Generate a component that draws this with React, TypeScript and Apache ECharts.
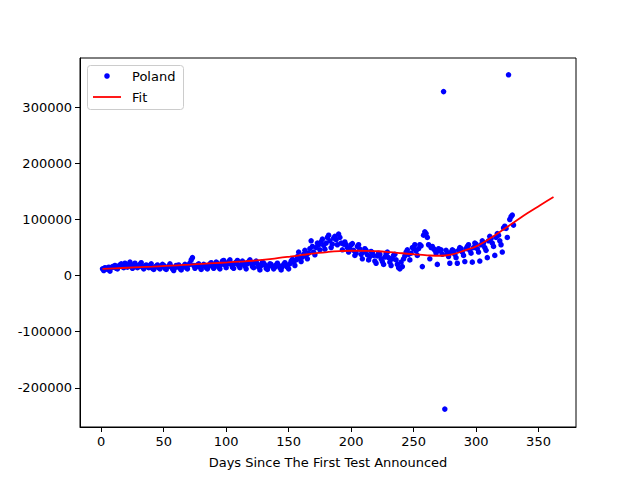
import React, { useEffect, useRef } from 'react';
import * as echarts from 'echarts';

// daily new cases (day 1 .. 330)
const dailyCases: number[] = [
  12000, 9000, 14000, 13000, 11000, 15000, 8000,
  14000, 16000, 15000, 18000, 13000, 12000, 17000,
  19000, 21000, 16000, 14000, 22000, 18000, 15000,
  20000, 24000, 17000, 13000, 19000, 22000, 16000,
  14000, 18000, 20000, 23000, 15000, 12000, 17000,
  19000, 16000, 14000, 18000, 21000, 13000, 11000,
  15000, 17000, 19000, 14000, 12000, 16000, 20000,
  18000, 13000, 11000, 15000, 17000, 21000, 16000,
  12000, 9000, 14000, 18000, 16000, 19000, 13000,
  10000, 15000, 17000, 20000, 14000, 12000, 19000,
  22000, 28000, 32000, 18000, 13000, 16000, 19000,
  21000, 15000, 11000, 17000, 20000, 18000, 14000,
  12000, 18000, 21000, 23000, 16000, 13000, 19000,
  24000, 22000, 15000, 12000, 20000, 26000, 27000,
  19000, 14000, 21000, 25000, 28000, 20000, 15000,
  13000, 22000, 24000, 27000, 18000, 14000, 20000,
  26000, 23000, 17000, 12000, 21000, 25000, 28000,
  22000, 16000, 14000, 23000, 26000, 21000, 15000,
  10000, 18000, 24000, 22000, 19000, 13000, 11000,
  17000, 21000, 20000, 16000, 12000, 15000, 19000,
  22000, 18000, 14000, 10000, 16000, 20000, 23000,
  19000, 15000, 12000, 21000, 26000, 29000, 24000,
  18000, 28000, 34000, 42000, 30000, 25000, 33000,
  38000, 45000, 36000, 30000, 40000, 48000, 62000,
  52000, 42000, 37000, 50000, 58000, 55000, 46000,
  60000, 65000, 54000, 47000, 58000, 68000, 72000,
  62000, 50000, 56000, 67000, 70000, 64000, 55000,
  74000, 68000, 58000, 46000, 56000, 60000, 55000,
  50000, 42000, 48000, 55000, 57000, 45000, 36000,
  40000, 52000, 55000, 47000, 38000, 30000, 42000,
  48000, 45000, 37000, 28000, 34000, 43000, 41000,
  36000, 26000, 22000, 35000, 40000, 38000, 30000,
  25000, 20000, 33000, 39000, 42000, 32000, 24000,
  18000, 30000, 36000, 38000, 28000, 20000, 14000,
  12000, 24000, 16000, 30000, 35000, 42000, 46000,
  38000, 28000, 40000, 50000, 48000, 55000, 44000,
  36000, 48000, 55000, 53000, 16000, 72000, 78000,
  75000, 68000, 55000, 30000, 50000, 52000, 48000,
  45000, 40000, 20000, 48000, 44000, 46000, 38000,
  328000, -238000, 45000, 40000, 34000, 22000, 42000,
  46000, 44000, 38000, 32000, 22000, 45000, 50000,
  48000, 42000, 36000, 25000, 48000, 52000, 55000,
  45000, 40000, 24000, 50000, 58000, 56000, 48000,
  42000, 26000, 55000, 62000, 58000, 50000, 45000,
  32000, 62000, 70000, 66000, 58000, 52000, 36000,
  68000, 75000, 72000, 62000, 55000, 42000, 85000,
  88000, 84000, 68000, 358000, 100000, 105000, 108000,
  90000,
];

// fitted curve, sampled every 10 days
const fitDays: number[] = [
  1, 11, 21, 31, 41, 51, 61, 71, 81, 91, 101, 111, 121, 131, 141, 151, 161, 171, 181,
  191, 201, 211, 221, 231, 241, 251, 261, 271, 281, 291, 301, 311, 321, 331, 341, 351, 362,
];
const fitValues: number[] = [
  12000, 13000, 14000, 15000, 16000, 17200, 18400, 19600, 21000, 22300, 23600, 25000,
  26500, 28500, 31000, 33800, 36800, 39600, 42000, 43600, 44300, 44200, 43400, 41800,
  39800, 37800, 36200, 35400, 38000, 45000, 53000, 66000, 81000, 96000, 111000, 125000,
  140000,
];

const xTicks = [0, 50, 100, 150, 200, 250, 300, 350];
const yTicks = [-200000, -100000, 0, 100000, 200000, 300000];

const FONT = 'DejaVu Sans';

const App: React.FC = () => {
  const chartRef = useRef<HTMLDivElement>(null);

  useEffect(() => {
    if (!chartRef.current) return;
    const chart = echarts.init(chartRef.current, undefined, { renderer: 'svg' });

    const scatterData = dailyCases.map((v, i) => [i + 1, v]);
    const fitData = fitDays.map((d, i) => [d, fitValues[i]]);

    const option: echarts.EChartsOption = {
      animation: false,
      backgroundColor: '#ffffff',
      grid: {
        left: 80,
        right: 64,
        top: 58,
        bottom: 53,
        show: true,
        borderColor: '#000000',
        borderWidth: 1,
        backgroundColor: 'transparent',
      },
      xAxis: {
        type: 'value',
        min: -17,
        max: 380,
        name: 'Days Since The First Test Announced',
        nameLocation: 'middle',
        nameGap: 29,
        nameTextStyle: { fontFamily: FONT, fontSize: 13, color: '#000' },
        axisLine: { show: true, onZero: false, lineStyle: { color: '#000' } },
        axisTick: { show: true, length: 5, customValues: xTicks, lineStyle: { color: '#000' } },
        axisLabel: {
          customValues: xTicks,
          margin: 8,
          fontFamily: FONT,
          fontSize: 13,
          color: '#000',
          formatter: (v: number) => String(v),
        },
        splitLine: { show: false },
      },
      yAxis: {
        type: 'value',
        min: -269900,
        max: 387900,
        axisLine: { show: true, onZero: false, lineStyle: { color: '#000' } },
        axisTick: { show: true, length: 5, customValues: yTicks, lineStyle: { color: '#000' } },
        axisLabel: {
          customValues: yTicks,
          margin: 8,
          fontFamily: FONT,
          fontSize: 13,
          color: '#000',
          formatter: (v: number) => String(v),
        },
        splitLine: { show: false },
      },
      series: [
        {
          name: 'Poland',
          type: 'scatter',
          data: scatterData,
          symbolSize: 5.5,
          itemStyle: { color: '#0000ff', opacity: 1 },
          z: 2,
        },
        {
          name: 'Fit',
          type: 'line',
          data: fitData,
          smooth: true,
          showSymbol: false,
          symbol: 'none',
          lineStyle: { color: '#ff0000', width: 1.8 },
          z: 3,
        },
      ],
      graphic: [
        {
          type: 'rect',
          shape: { x: 87.5, y: 65.5, width: 96, height: 44, r: 3 },
          style: { fill: 'rgba(255,255,255,0.8)', stroke: '#cccccc', lineWidth: 1 },
          z: 10,
        },
        {
          type: 'circle',
          shape: { cx: 107, cy: 76, r: 2.8 },
          style: { fill: '#0000ff' },
          z: 11,
        },
        {
          type: 'text',
          x: 132,
          y: 76,
          style: {
            text: 'Poland',
            fontFamily: FONT,
            fontSize: 13,
            fill: '#000',
            textVerticalAlign: 'middle',
          },
          z: 11,
        },
        {
          type: 'line',
          shape: { x1: 93, y1: 97, x2: 121, y2: 97 },
          style: { stroke: '#ff0000', lineWidth: 1.8 },
          z: 11,
        },
        {
          type: 'text',
          x: 132,
          y: 97,
          style: {
            text: 'Fit',
            fontFamily: FONT,
            fontSize: 13,
            fill: '#000',
            textVerticalAlign: 'middle',
          },
          z: 11,
        },
      ],
    };

    chart.setOption(option);

    return () => {
      chart.dispose();
    };
  }, []);

  return (
    <div
      ref={chartRef}
      style={{ position: 'fixed', left: 0, top: 0, width: '640px', height: '480px' }}
    />
  );
};

export default App;
